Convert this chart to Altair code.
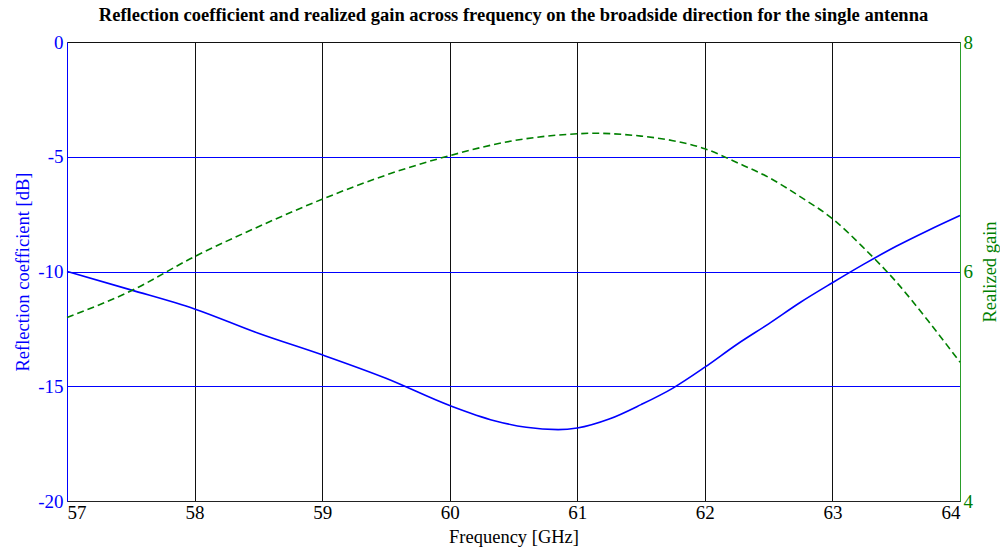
import altair as alt
import pandas as pd

# Reflection coefficient (blue solid, left axis)
freq_s11 = [57, 57.5, 58, 58.5, 59, 59.5, 60, 60.35, 60.6, 60.85, 61, 61.25, 61.5,
            61.75, 62, 62.25, 62.5, 62.75, 63, 63.25, 63.5, 63.75, 64]
s11_db = [-10.0, -10.8, -11.63, -12.69, -13.63, -14.65, -15.84, -16.5, -16.79, -16.89,
          -16.82, -16.43, -15.8, -15.08, -14.17, -13.18, -12.28, -11.34, -10.49, -9.67,
          -8.9, -8.21, -7.56]

# Realized gain (green dashed, right axis)
freq_gain = [57, 57.5, 58, 58.5, 59, 59.5, 60, 60.5, 61, 61.12, 61.5, 61.75, 62, 62.25,
             62.5, 62.75, 63, 63.25, 63.5, 63.75, 64]
gain = [5.60, 5.83, 6.13, 6.39, 6.63, 6.84, 7.01, 7.14, 7.20, 7.205, 7.18, 7.14, 7.07,
        6.95, 6.82, 6.65, 6.46, 6.20, 5.91, 5.57, 5.21]

x_ticks = [57, 58, 59, 60, 61, 62, 63, 64]
left_ticks = [0, -5, -10, -15, -20]
right_ticks = [4, 6, 8]

BLUE = "#0000ff"
GREEN = "#008000"
FONT = "Liberation Serif"

df_s = pd.DataFrame({"f": freq_s11, "s11": s11_db})
df_g = pd.DataFrame({"f": freq_gain, "gain": gain})

x_enc = alt.X(
    "f:Q",
    scale=alt.Scale(domain=[57, 64], nice=False, zero=False),
    axis=alt.Axis(
        values=x_ticks, title="Frequency [GHz]", grid=True, gridColor="#111111",
        gridWidth=1, gridOpacity=1, domainColor="#222222", ticks=False,
        labelFont=FONT, labelFontSize=19, labelColor="black", labelPadding=2,
        titleFont=FONT, titleFontSize=18.5, titleFontWeight="normal", titleColor="black",
        titlePadding=5, labelExpr="'' + datum.value",
    ),
)

s_line = alt.Chart(df_s).mark_line(color=BLUE, strokeWidth=1.6, interpolate="monotone").encode(
    x=x_enc,
    y=alt.Y(
        "s11:Q",
        scale=alt.Scale(domain=[-20, 0], nice=False),
        axis=alt.Axis(
            values=left_ticks, orient="left", title="Reflection coefficient [dB]",
            grid=True,
            gridColor={"condition": {"test": "datum.value === 0", "value": "#111111"},
                       "value": BLUE},
            gridWidth=1, gridOpacity=1,
            domainColor=BLUE, ticks=False, labelColor=BLUE, labelFont=FONT,
            labelFontSize=19, labelPadding=4, titleFont=FONT, titleFontSize=18.5,
            titleFontWeight="normal", titleColor=BLUE, titlePadding=5,
            labelExpr="'' + datum.value",
        ),
    ),
)

g_line = alt.Chart(df_g).mark_line(color=GREEN, strokeWidth=1.6, strokeDash=[7, 4],
                                   interpolate="monotone").encode(
    x=alt.X("f:Q"),
    y=alt.Y(
        "gain:Q",
        scale=alt.Scale(domain=[4, 8], nice=False, zero=False),
        axis=alt.Axis(
            values=right_ticks, orient="right", title="Realized gain",
            grid=False, domainColor="#2a9d2a", ticks=False, labelColor=GREEN,
            labelFont=FONT, labelFontSize=19, labelPadding=3, titleFont=FONT,
            titleFontSize=18.5, titleFontWeight="normal", titleColor=GREEN,
            titleAngle=270, titleX=29, titleY=229.5, titleAlign="center",
            titleBaseline="middle", labelExpr="'' + datum.value",
        ),
    ),
)

chart = (
    alt.layer(s_line, g_line)
    .resolve_scale(y="independent")
    .properties(
        width=893,
        height=459,
        padding={"left": 67, "top": 42, "right": 40, "bottom": 48},
        autosize=alt.AutoSizeParams(type="none"),
        title=alt.TitleParams(
            "Reflection coefficient and realized gain across frequency on the broadside direction for the single antenna",
            font=FONT, fontSize=18.5, fontWeight="bold", color="black",
            anchor="middle", offset=9,
        ),
    )
    .configure_view(stroke="black", strokeWidth=1)
    .configure(background="white")
)

chart.save("out.html", embed_options={"renderer": "svg", "actions": False})
